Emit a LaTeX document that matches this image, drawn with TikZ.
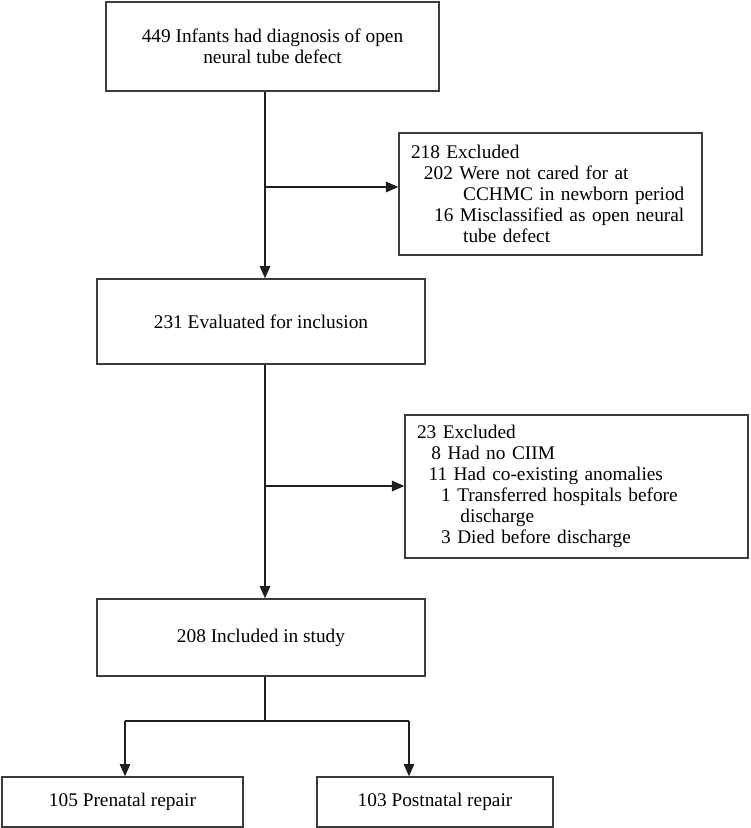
\documentclass[tikz,border=0pt]{standalone}
\usepackage{fontspec}
\setmainfont{Liberation Serif}
\usepackage{tikz}
\usetikzlibrary{arrows.meta}
\definecolor{boxline}{RGB}{60,60,60}
\definecolor{arrowdark}{RGB}{30,30,30}

\begin{document}
\begin{tikzpicture}[
  box/.style={rectangle, draw=boxline, line width=0.8pt, fill=white,
              font=\fontsize{11}{12}\selectfont, align=center, inner sep=2pt},
  exbox/.style={box, align=left, inner xsep=0.24cm},
  arr/.style={-{Triangle[length=7pt,width=6pt]}, line width=0.75pt, draw=arrowdark},
  link/.style={line width=0.75pt, draw=arrowdark},
]
\useasboundingbox (0,0) rectangle (15,-16.56);

\node[box, minimum width=6.66cm, minimum height=1.78cm] (diag) at (5.45,-0.93)
  {449 Infants had diagnosis of open\\neural tube defect};
\node[exbox, text width=5.58cm, minimum height=2.44cm] (excl1) at (11.01,-3.88)
  {218 Excluded\\
   \hspace*{0.67em}202 Were not cared for at\\
   \hspace*{2.7em}CCHMC in newborn period\\
   \hspace*{1.2em}16 Misclassified as open neural\\
   \hspace*{2.7em}tube defect};
\node[box, minimum width=6.56cm, minimum height=1.7cm] (eval) at (5.22,-6.43)
  {231 Evaluated for inclusion};
\node[exbox, text width=6.38cm, minimum height=2.86cm] (excl2) at (11.53,-9.73)
  {23 Excluded\\
   \hspace*{0.75em}8 Had no CIIM\\
   \hspace*{0.6em}11 Had co-existing anomalies\\
   \hspace*{1.25em}1 Transferred hospitals before\\
   \hspace*{2.25em}discharge\\
   \hspace*{1.25em}3 Died before discharge};
\node[box, minimum width=6.56cm, minimum height=1.54cm] (incl) at (5.22,-12.75)
  {208 Included in study};
\node[box, minimum width=4.82cm, minimum height=1.0cm] (pre) at (2.45,-16.04)
  {105 Prenatal repair};
\node[box, minimum width=4.72cm, minimum height=1.0cm] (post) at (8.7,-16.04)
  {103 Postnatal repair};

% trunk and branch points
\coordinate (trunk) at (5.3,0);
\coordinate (j1) at (5.3,-3.74);
\coordinate (j2) at (5.3,-9.72);
\coordinate (split) at (5.3,-14.42);
\coordinate (la) at (2.5,-14.42);
\coordinate (ra) at (8.18,-14.42);

\draw[arr] (diag.south -| trunk) -- (eval.north -| trunk);
\draw[arr] (j1) -- (j1 -| excl1.west);
\draw[arr] (eval.south -| trunk) -- (incl.north -| trunk);
\draw[arr] (j2) -- (j2 -| excl2.west);
\draw[link] (incl.south -| trunk) -- (split);
\draw[link] (la) -- (ra);
\draw[arr] (la) -- (pre.north -| la);
\draw[arr] (ra) -- (post.north -| ra);
\end{tikzpicture}
\end{document}
